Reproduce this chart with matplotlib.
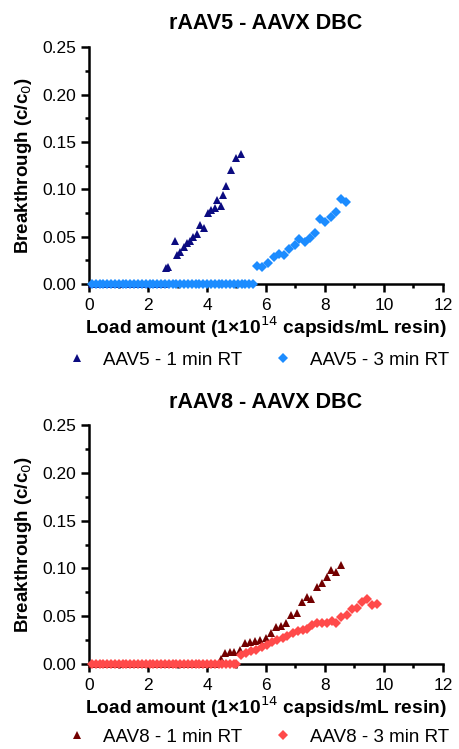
import matplotlib
matplotlib.use("Agg")
import matplotlib.pyplot as plt
from matplotlib.ticker import MultipleLocator

plt.rcParams["font.family"] = ["Liberation Sans", "DejaVu Sans"]

# --- data -----------------------------------------------------------------
aav5_1min_x = [0.10, 0.23, 0.36, 0.49, 0.62, 0.75, 0.88, 1.01, 1.14, 1.27, 1.40,
               1.53, 1.66, 1.79, 1.92, 2.05, 2.18, 2.31, 2.44, 2.55,
               2.61, 2.67, 2.90, 2.99, 3.10, 3.21, 3.33, 3.44, 3.54, 3.65, 3.76,
               3.90, 4.04, 4.15, 4.27, 4.35, 4.46, 4.54, 4.66, 4.83, 4.98, 5.14]
aav5_1min_y = [0.0] * 20 + [0.017, 0.018, 0.045, 0.031, 0.034, 0.039, 0.043, 0.045,
                            0.050, 0.053, 0.062, 0.059, 0.075, 0.078, 0.080, 0.089,
                            0.082, 0.094, 0.103, 0.120, 0.133, 0.137]

aav5_3min_x = [0.10, 0.23, 0.36, 0.49, 0.62, 0.75, 0.88, 1.01, 1.14, 1.27, 1.40,
               1.53, 1.66, 1.79, 1.92, 2.05, 2.18, 2.31, 2.44, 2.57, 2.70, 2.83,
               2.96, 3.09, 3.22, 3.35, 3.48, 3.61, 3.74, 3.87, 4.00, 4.13, 4.26,
               4.39, 4.52, 4.65, 4.78, 4.91, 5.04, 5.17, 5.30, 5.43, 5.56,
               5.71, 5.85, 6.08, 6.27, 6.45, 6.62, 6.79, 6.98, 7.13, 7.32, 7.49,
               7.66, 7.83, 8.00, 8.19, 8.37, 8.53, 8.71]
aav5_3min_y = [0.0] * 43 + [0.019, 0.018, 0.022, 0.028, 0.032, 0.031, 0.037, 0.041,
                            0.047, 0.044, 0.048, 0.054, 0.068, 0.065, 0.071, 0.076,
                            0.090, 0.087]

aav8_1min_x = [0.10, 0.23, 0.36, 0.49, 0.62, 0.75, 0.88, 1.01, 1.14, 1.27, 1.40,
               1.53, 1.66, 1.79, 1.92, 2.05, 2.18, 2.31, 2.44, 2.57, 2.70, 2.83,
               2.96, 3.09, 3.22, 3.35, 3.48, 3.61, 3.74, 3.87, 4.00, 4.13, 4.26,
               4.46, 4.61, 4.78, 4.93, 5.12, 5.29, 5.46, 5.63, 5.80, 5.99, 6.16,
               6.34, 6.51, 6.68, 6.85, 7.04, 7.21, 7.38, 7.53, 7.72, 7.89, 8.06,
               8.20, 8.37, 8.56]
aav8_1min_y = [0.0] * 33 + [0.005, 0.011, 0.013, 0.013, 0.015, 0.022, 0.023, 0.024,
                            0.025, 0.027, 0.032, 0.039, 0.040, 0.043, 0.051, 0.053,
                            0.065, 0.070, 0.068, 0.081, 0.085, 0.091, 0.098, 0.096,
                            0.104]

aav8_3min_x = [0.10, 0.23, 0.36, 0.49, 0.62, 0.75, 0.88, 1.01, 1.14, 1.27, 1.40,
               1.53, 1.66, 1.79, 1.92, 2.05, 2.18, 2.31, 2.44, 2.57, 2.70, 2.83,
               2.96, 3.09, 3.22, 3.35, 3.48, 3.61, 3.74, 3.87, 4.00, 4.13, 4.26,
               4.39, 4.52, 4.65, 4.78, 4.91, 5.00,
               5.14, 5.32, 5.49, 5.66, 5.85, 6.02, 6.19, 6.38, 6.56, 6.72, 6.90,
               7.07, 7.24, 7.38, 7.55, 7.72, 7.89, 8.06, 8.23, 8.39, 8.56, 8.73,
               8.93, 9.07, 9.24, 9.41, 9.58, 9.75]
aav8_3min_y = [0.0] * 39 + [0.009, 0.011, 0.014, 0.015, 0.018, 0.020, 0.023, 0.025,
                            0.027, 0.029, 0.032, 0.034, 0.036, 0.037, 0.041, 0.043,
                            0.043, 0.043, 0.045, 0.043, 0.049, 0.051, 0.058, 0.059,
                            0.065, 0.068, 0.062, 0.063]

panels = [
    ("rAAV5 - AAVX DBC",
     [(aav5_1min_x, aav5_1min_y, "AAV5 - 1 min RT", "^", "#0b0b80"),
      (aav5_3min_x, aav5_3min_y, "AAV5 - 3 min RT", "D", "#1c8cff")]),
    ("rAAV8 - AAVX DBC",
     [(aav8_1min_x, aav8_1min_y, "AAV8 - 1 min RT", "^", "#730000"),
      (aav8_3min_x, aav8_3min_y, "AAV8 - 3 min RT", "D", "#ff4a4a")]),
]

fig = plt.figure(figsize=(4.59, 7.49), dpi=100)
boxes = [[0.194, 0.621, 0.771, 0.316], [0.194, 0.1135, 0.771, 0.319]]
title_y = [0.969, 0.462]
legend_y = [0.519, 0.016]

for box, ty, ly, (title, series) in zip(boxes, title_y, legend_y, panels):
    ax = fig.add_axes(box)
    handles = []
    for xs, ys, label, mk, col in series:
        ms = 6 if mk == "^" else 4.8
        h, = ax.plot(xs, ys, linestyle="none", marker=mk, markersize=ms,
                     color=col, markeredgewidth=0, label=label, clip_on=False,
                     zorder=3)
        handles.append(h)
    ax.set_xlim(0, 12)
    ax.set_ylim(0, 0.25)
    ax.xaxis.set_major_locator(MultipleLocator(2))
    ax.xaxis.set_minor_locator(MultipleLocator(1))
    ax.yaxis.set_major_locator(MultipleLocator(0.05))
    ax.yaxis.set_minor_locator(MultipleLocator(0.025))
    ax.yaxis.set_major_formatter(plt.FormatStrFormatter("%.2f"))
    for side in ("top", "right"):
        ax.spines[side].set_visible(False)
    for side in ("left", "bottom"):
        ax.spines[side].set_linewidth(1.8)
    ax.tick_params(which="major", length=6, width=1.8, labelsize=12.5)
    ax.tick_params(which="minor", length=3, width=1.8)
    ax.tick_params(axis="x", pad=4)
    ax.tick_params(axis="y", pad=3)

    fig.text(box[0] + box[2] / 2, ty, title, fontsize=15.5, fontweight="bold",
             ha="center", va="center")
    ax.set_xlabel("Load amount (1×10$^{14}$ capsids/mL resin)", fontsize=13.8,
                  fontweight="bold")
    ax.xaxis.set_label_coords(0.5, -43 / 237)
    ax.xaxis.label.set_va("center")
    ax.set_ylabel("Breakthrough (c/c$_0$)", fontsize=13.5, fontweight="bold")
    ax.yaxis.set_label_coords(-0.186, 0.5)
    ax.yaxis.label.set_va("center")

    ax.legend(handles=handles, loc="center", bbox_to_anchor=(0.562, ly),
              bbox_transform=fig.transFigure, ncol=2, frameon=False,
              fontsize=13.5, handlelength=1.0, handletextpad=0.9,
              columnspacing=1.7, borderpad=0)

fig.savefig("out.png", dpi=100)
